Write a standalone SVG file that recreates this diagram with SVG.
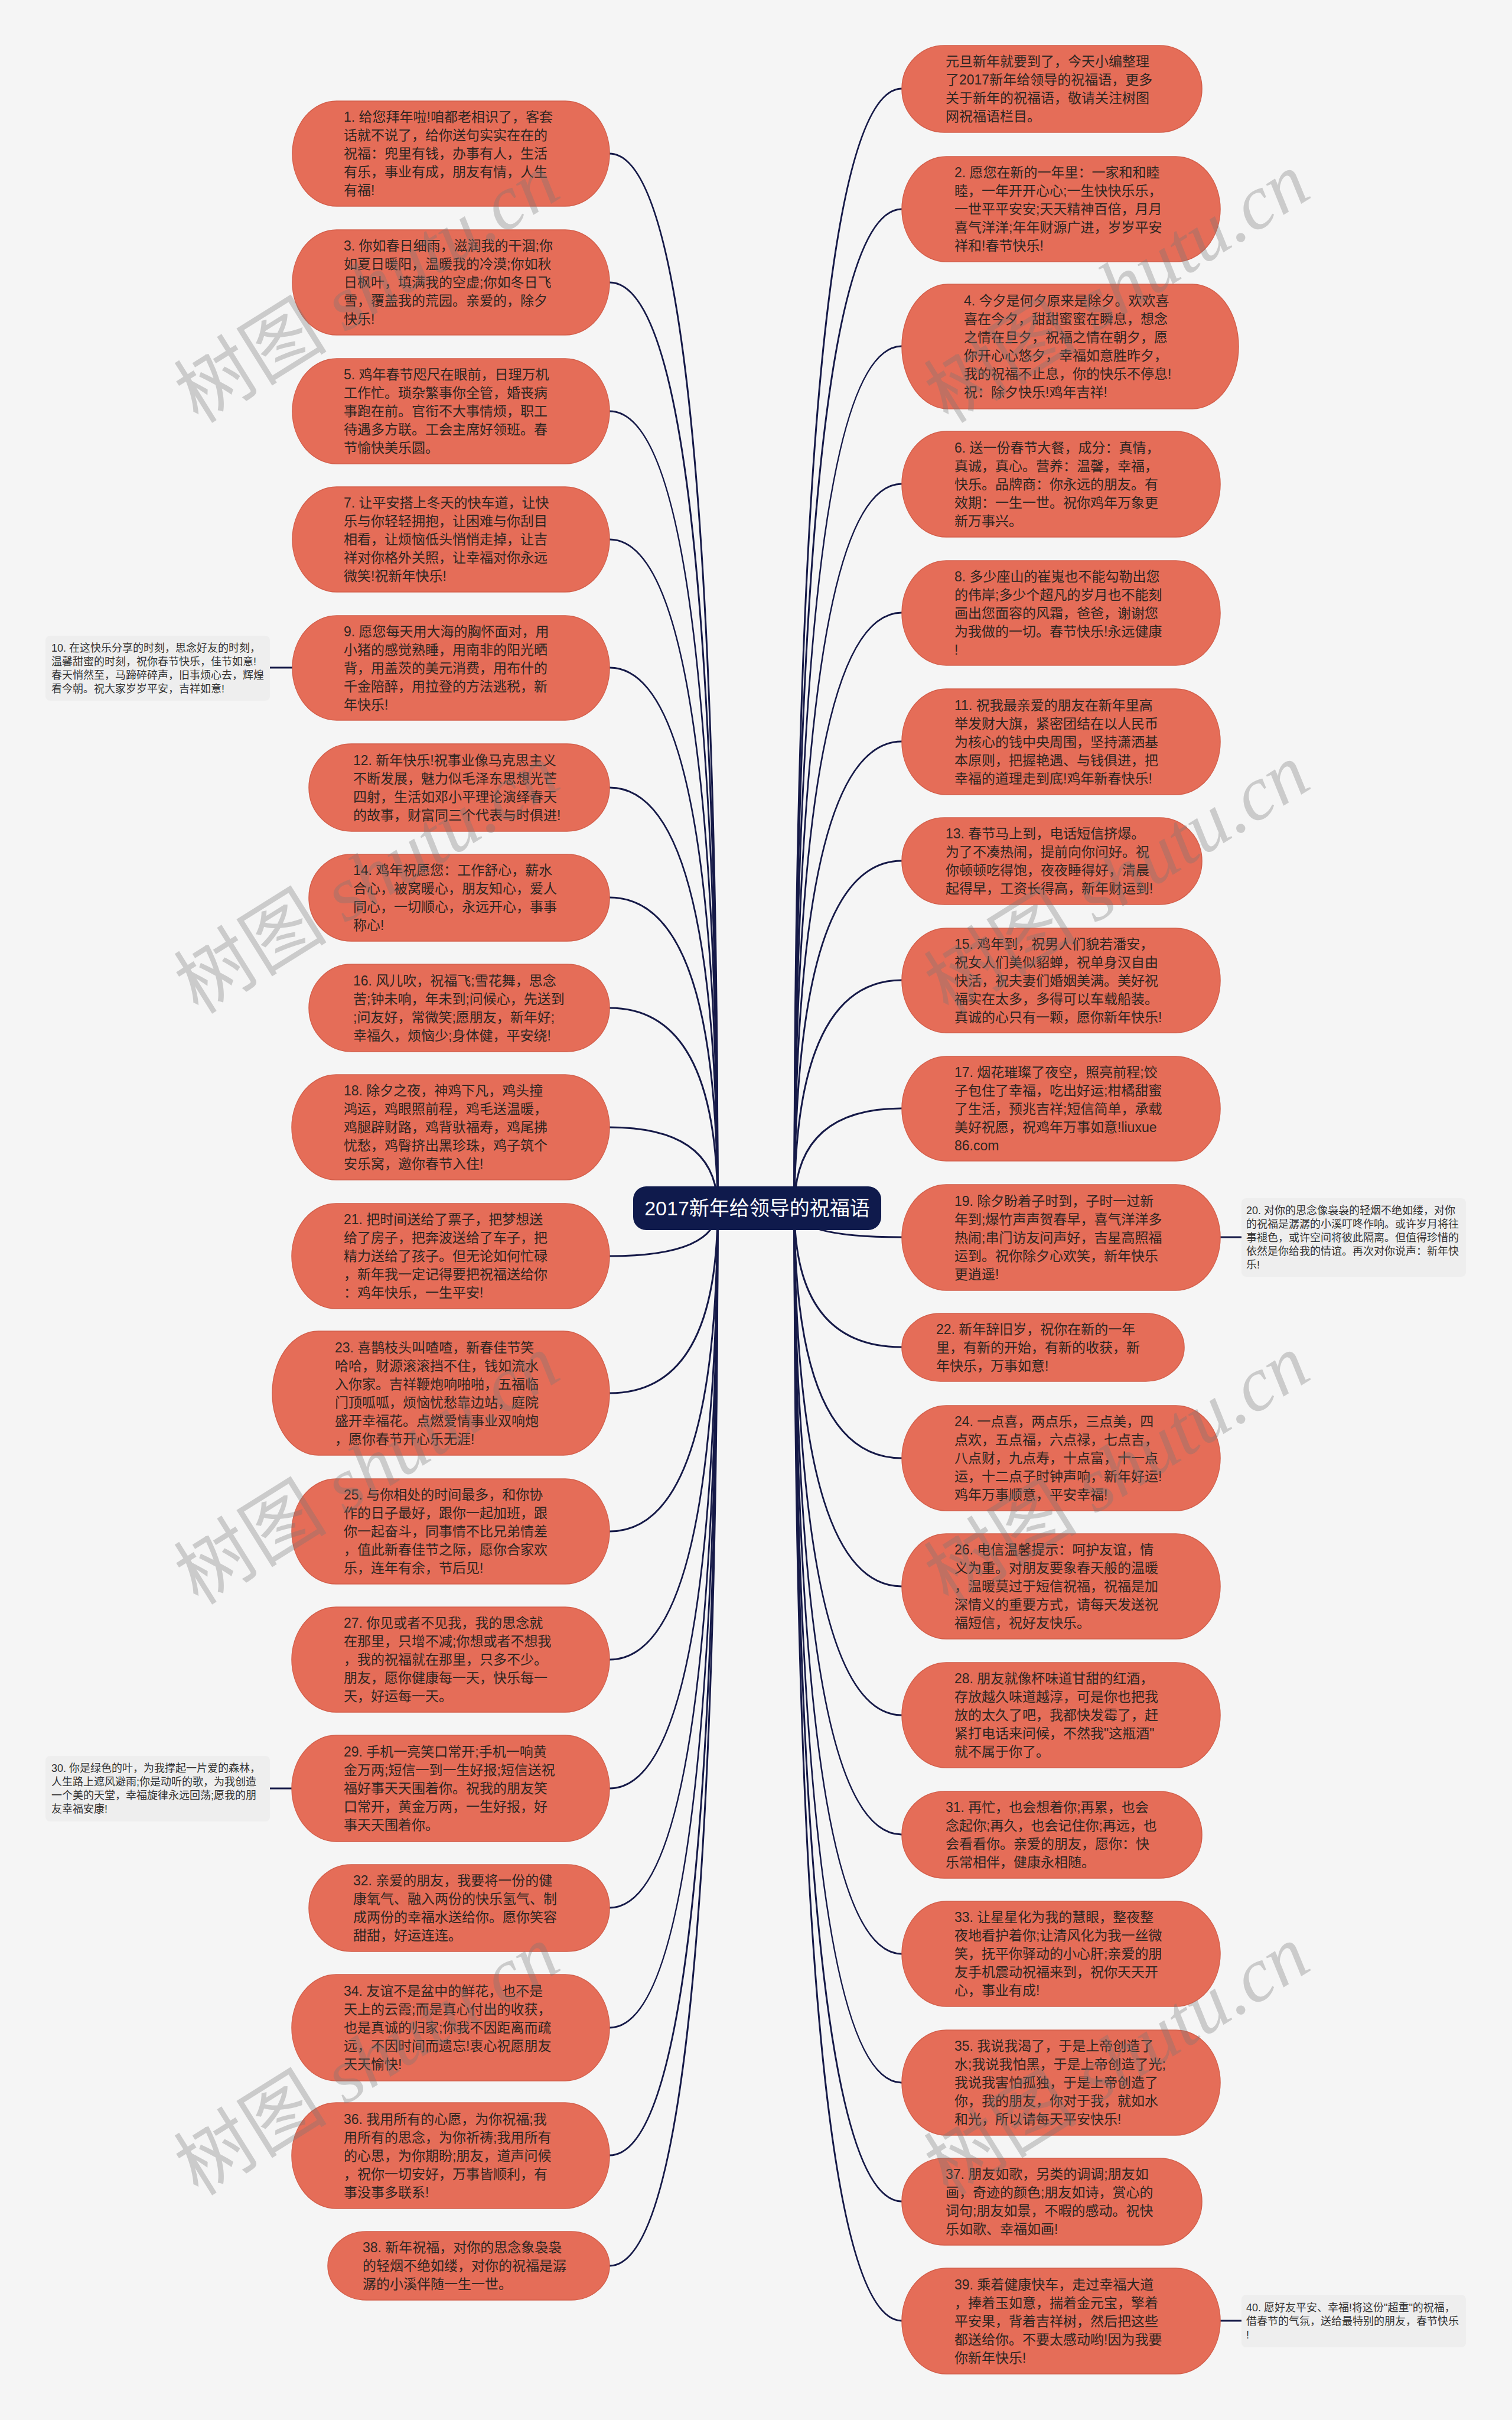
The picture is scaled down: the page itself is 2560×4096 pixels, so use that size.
<svg xmlns="http://www.w3.org/2000/svg" width="2560" height="4096" viewBox="0 0 2560 4096">
<style>
.n{fill:#e56d58;stroke:#d45f4b;stroke-width:1.5}
.t{font-family:"Liberation Sans","Noto Sans CJK SC",sans-serif;font-size:23px;fill:#2e2622}
.nb{fill:#eeeeee}
.nt{font-family:"Liberation Sans","Noto Sans CJK SC",sans-serif;font-size:18px;fill:#333333}
.c{fill:none;stroke:#161a48;stroke-width:3}
.wm{font-size:130px;fill:#777777;opacity:0.33}
.ct{font-family:"Liberation Sans","Noto Sans CJK SC",sans-serif;font-size:34px;fill:#ffffff}
</style>
<rect x="0" y="0" width="2560" height="4096" fill="#f5f5f5"/>
<g id="connectors">
<path class="c" d="M1215 2045 Q1215 260 1032 260"/>
<path class="c" d="M1215 2045 Q1215 478 1032 478"/>
<path class="c" d="M1215 2045 Q1215 696 1032 696"/>
<path class="c" d="M1215 2045 Q1215 913 1032 913"/>
<path class="c" d="M1215 2045 Q1215 1130 1032 1130"/>
<path class="c" d="M1215 2045 Q1215 1333 1032 1333"/>
<path class="c" d="M1215 2045 Q1215 1519 1032 1519"/>
<path class="c" d="M1215 2045 Q1215 1706 1032 1706"/>
<path class="c" d="M1215 2045 Q1215 1908 1032 1908"/>
<path class="c" d="M1215 2045 Q1215 2126 1032 2126"/>
<path class="c" d="M1215 2045 Q1215 2358 1032 2358"/>
<path class="c" d="M1215 2045 Q1215 2592 1032 2592"/>
<path class="c" d="M1215 2045 Q1215 2809 1032 2809"/>
<path class="c" d="M1215 2045 Q1215 3027 1032 3027"/>
<path class="c" d="M1215 2045 Q1215 3229 1032 3229"/>
<path class="c" d="M1215 2045 Q1215 3432 1032 3432"/>
<path class="c" d="M1215 2045 Q1215 3648 1032 3648"/>
<path class="c" d="M1215 2045 Q1215 3835 1032 3835"/>
<path class="c" d="M1345 2045 Q1345 150 1527 150"/>
<path class="c" d="M1345 2045 Q1345 354 1527 354"/>
<path class="c" d="M1345 2045 Q1345 586 1527 586"/>
<path class="c" d="M1345 2045 Q1345 819 1527 819"/>
<path class="c" d="M1345 2045 Q1345 1037 1527 1037"/>
<path class="c" d="M1345 2045 Q1345 1255 1527 1255"/>
<path class="c" d="M1345 2045 Q1345 1457 1527 1457"/>
<path class="c" d="M1345 2045 Q1345 1659 1527 1659"/>
<path class="c" d="M1345 2045 Q1345 1876 1527 1876"/>
<path class="c" d="M1345 2045 Q1345 2094 1527 2094"/>
<path class="c" d="M1345 2045 Q1345 2280 1527 2280"/>
<path class="c" d="M1345 2045 Q1345 2468 1527 2468"/>
<path class="c" d="M1345 2045 Q1345 2685 1527 2685"/>
<path class="c" d="M1345 2045 Q1345 2903 1527 2903"/>
<path class="c" d="M1345 2045 Q1345 3105 1527 3105"/>
<path class="c" d="M1345 2045 Q1345 3307 1527 3307"/>
<path class="c" d="M1345 2045 Q1345 3525 1527 3525"/>
<path class="c" d="M1345 2045 Q1345 3726 1527 3726"/>
<path class="c" d="M1345 2045 Q1345 3928 1527 3928"/>
<path class="c" d="M495 1130 L457 1130"/>
<path class="c" d="M494 3027 L457 3027"/>
<path class="c" d="M2066 2094 L2102 2094"/>
<path class="c" d="M2066 3928 L2102 3928"/>
</g>
<g id="center">
<rect x="1072" y="2008" width="420" height="74" rx="22" fill="#0f1a4c"/>
<text class="ct" x="1282" y="2057" text-anchor="middle">2017新年给领导的祝福语</text>
</g>
<g id="n1"><rect class="n" x="495" y="171" width="537" height="178" rx="75" ry="89"/>
<text class="t" x="582" y="206"><tspan x="582">1. 给您拜年啦!咱都老相识了，客套</tspan><tspan x="582" dy="31">话就不说了，给你送句实实在在的</tspan><tspan x="582" dy="31">祝福：兜里有钱，办事有人，生活</tspan><tspan x="582" dy="31">有乐，事业有成，朋友有情，人生</tspan><tspan x="582" dy="31">有福!</tspan></text></g>
<g id="n3"><rect class="n" x="495" y="389" width="537" height="178" rx="75" ry="89"/>
<text class="t" x="582" y="424"><tspan x="582">3. 你如春日细雨，滋润我的干涸;你</tspan><tspan x="582" dy="31">如夏日暖阳，温暖我的冷漠;你如秋</tspan><tspan x="582" dy="31">日枫叶，填满我的空虚;你如冬日飞</tspan><tspan x="582" dy="31">雪，覆盖我的荒园。亲爱的，除夕</tspan><tspan x="582" dy="31">快乐!</tspan></text></g>
<g id="n5"><rect class="n" x="495" y="607" width="537" height="178" rx="75" ry="89"/>
<text class="t" x="582" y="642"><tspan x="582">5. 鸡年春节咫尺在眼前，日理万机</tspan><tspan x="582" dy="31">工作忙。琐杂繁事你全管，婚丧病</tspan><tspan x="582" dy="31">事跑在前。官衔不大事情烦，职工</tspan><tspan x="582" dy="31">待遇多方联。工会主席好领班。春</tspan><tspan x="582" dy="31">节愉快美乐圆。</tspan></text></g>
<g id="n7"><rect class="n" x="495" y="824" width="537" height="178" rx="75" ry="89"/>
<text class="t" x="582" y="859"><tspan x="582">7. 让平安搭上冬天的快车道，让快</tspan><tspan x="582" dy="31">乐与你轻轻拥抱，让困难与你刮目</tspan><tspan x="582" dy="31">相看，让烦恼低头悄悄走掉，让吉</tspan><tspan x="582" dy="31">祥对你格外关照，让幸福对你永远</tspan><tspan x="582" dy="31">微笑!祝新年快乐!</tspan></text></g>
<g id="n9"><rect class="n" x="495" y="1042" width="537" height="177" rx="75" ry="88"/>
<text class="t" x="582" y="1077"><tspan x="582">9. 愿您每天用大海的胸怀面对，用</tspan><tspan x="582" dy="31">小猪的感觉熟睡，用南非的阳光晒</tspan><tspan x="582" dy="31">背，用盖茨的美元消费，用布什的</tspan><tspan x="582" dy="31">千金陪醉，用拉登的方法逃税，新</tspan><tspan x="582" dy="31">年快乐!</tspan></text></g>
<g id="n10"><rect class="nb" x="77" y="1076" width="380" height="110" rx="8"/>
<text class="nt" x="87" y="1103"><tspan x="87">10. 在这快乐分享的时刻，思念好友的时刻，</tspan><tspan x="87" dy="23">温馨甜蜜的时刻，祝你春节快乐，佳节如意!</tspan><tspan x="87" dy="23">春天悄然至，马蹄碎碎声，旧事烦心去，辉煌</tspan><tspan x="87" dy="23">看今朝。祝大家岁岁平安，吉祥如意!</tspan></text></g>
<g id="n12"><rect class="n" x="523" y="1259" width="509" height="148" rx="72" ry="74"/>
<text class="t" x="598" y="1295"><tspan x="598">12. 新年快乐!祝事业像马克思主义</tspan><tspan x="598" dy="31">不断发展，魅力似毛泽东思想光芒</tspan><tspan x="598" dy="31">四射，生活如邓小平理论演绎春天</tspan><tspan x="598" dy="31">的故事，财富同三个代表与时俱进!</tspan></text></g>
<g id="n14"><rect class="n" x="523" y="1446" width="509" height="147" rx="72" ry="73"/>
<text class="t" x="598" y="1481"><tspan x="598">14. 鸡年祝愿您：工作舒心，薪水</tspan><tspan x="598" dy="31">合心，被窝暖心，朋友知心，爱人</tspan><tspan x="598" dy="31">同心，一切顺心，永远开心，事事</tspan><tspan x="598" dy="31">称心!</tspan></text></g>
<g id="n16"><rect class="n" x="523" y="1632" width="509" height="148" rx="72" ry="74"/>
<text class="t" x="598" y="1668"><tspan x="598">16. 风儿吹，祝福飞;雪花舞，思念</tspan><tspan x="598" dy="31">苦;钟未响，年未到;问候心，先送到</tspan><tspan x="598" dy="31">;问友好，常微笑;愿朋友，新年好;</tspan><tspan x="598" dy="31">幸福久，烦恼少;身体健，平安绕!</tspan></text></g>
<g id="n18"><rect class="n" x="494" y="1819" width="538" height="178" rx="75" ry="89"/>
<text class="t" x="582" y="1854"><tspan x="582">18. 除夕之夜，神鸡下凡，鸡头撞</tspan><tspan x="582" dy="31">鸿运，鸡眼照前程，鸡毛送温暖，</tspan><tspan x="582" dy="31">鸡腿辟财路，鸡背驮福寿，鸡尾拂</tspan><tspan x="582" dy="31">忧愁，鸡臀挤出黑珍珠，鸡子筑个</tspan><tspan x="582" dy="31">安乐窝，邀你春节入住!</tspan></text></g>
<g id="n21"><rect class="n" x="494" y="2037" width="538" height="178" rx="75" ry="89"/>
<text class="t" x="582" y="2072"><tspan x="582">21. 把时间送给了票子，把梦想送</tspan><tspan x="582" dy="31">给了房子，把奔波送给了车子，把</tspan><tspan x="582" dy="31">精力送给了孩子。但无论如何忙碌</tspan><tspan x="582" dy="31">，新年我一定记得要把祝福送给你</tspan><tspan x="582" dy="31">：鸡年快乐，一生平安!</tspan></text></g>
<g id="n23"><rect class="n" x="461" y="2253" width="571" height="210" rx="78" ry="105"/>
<text class="t" x="567" y="2289"><tspan x="567">23. 喜鹊枝头叫喳喳，新春佳节笑</tspan><tspan x="567" dy="31">哈哈，财源滚滚挡不住，钱如流水</tspan><tspan x="567" dy="31">入你家。吉祥鞭炮响啪啪，五福临</tspan><tspan x="567" dy="31">门顶呱呱，烦恼忧愁靠边站，庭院</tspan><tspan x="567" dy="31">盛开幸福花。点燃爱情事业双响炮</tspan><tspan x="567" dy="31">，愿你春节开心乐无涯!</tspan></text></g>
<g id="n25"><rect class="n" x="494" y="2503" width="538" height="178" rx="75" ry="89"/>
<text class="t" x="582" y="2538"><tspan x="582">25. 与你相处的时间最多，和你协</tspan><tspan x="582" dy="31">作的日子最好，跟你一起加班，跟</tspan><tspan x="582" dy="31">你一起奋斗，同事情不比兄弟情差</tspan><tspan x="582" dy="31">，值此新春佳节之际，愿你合家欢</tspan><tspan x="582" dy="31">乐，连年有余，节后见!</tspan></text></g>
<g id="n27"><rect class="n" x="494" y="2720" width="538" height="178" rx="75" ry="89"/>
<text class="t" x="582" y="2755"><tspan x="582">27. 你见或者不见我，我的思念就</tspan><tspan x="582" dy="31">在那里，只增不减;你想或者不想我</tspan><tspan x="582" dy="31">，我的祝福就在那里，只多不少。</tspan><tspan x="582" dy="31">朋友，愿你健康每一天，快乐每一</tspan><tspan x="582" dy="31">天，好运每一天。</tspan></text></g>
<g id="n29"><rect class="n" x="494" y="2937" width="538" height="180" rx="75" ry="90"/>
<text class="t" x="582" y="2973"><tspan x="582">29. 手机一亮笑口常开;手机一响黄</tspan><tspan x="582" dy="31">金万两;短信一到一生好报;短信送祝</tspan><tspan x="582" dy="31">福好事天天围着你。祝我的朋友笑</tspan><tspan x="582" dy="31">口常开，黄金万两，一生好报，好</tspan><tspan x="582" dy="31">事天天围着你。</tspan></text></g>
<g id="n30"><rect class="nb" x="77" y="2972" width="380" height="111" rx="8"/>
<text class="nt" x="87" y="2999"><tspan x="87">30. 你是绿色的叶，为我撑起一片爱的森林，</tspan><tspan x="87" dy="23">人生路上遮风避雨;你是动听的歌，为我创造</tspan><tspan x="87" dy="23">一个美的天堂，幸福旋律永远回荡;愿我的朋</tspan><tspan x="87" dy="23">友幸福安康!</tspan></text></g>
<g id="n32"><rect class="n" x="523" y="3156" width="509" height="147" rx="72" ry="73"/>
<text class="t" x="598" y="3191"><tspan x="598">32. 亲爱的朋友，我要将一份的健</tspan><tspan x="598" dy="31">康氧气、融入两份的快乐氢气、制</tspan><tspan x="598" dy="31">成两份的幸福水送给你。愿你笑容</tspan><tspan x="598" dy="31">甜甜，好运连连。</tspan></text></g>
<g id="n34"><rect class="n" x="494" y="3342" width="538" height="180" rx="75" ry="90"/>
<text class="t" x="582" y="3378"><tspan x="582">34. 友谊不是盆中的鲜花，也不是</tspan><tspan x="582" dy="31">天上的云霞;而是真心付出的收获，</tspan><tspan x="582" dy="31">也是真诚的归家;你我不因距离而疏</tspan><tspan x="582" dy="31">远，不因时间而遗忘!衷心祝愿朋友</tspan><tspan x="582" dy="31">天天愉快!</tspan></text></g>
<g id="n36"><rect class="n" x="494" y="3559" width="538" height="179" rx="75" ry="89"/>
<text class="t" x="582" y="3595"><tspan x="582">36. 我用所有的心愿，为你祝福;我</tspan><tspan x="582" dy="31">用所有的思念，为你祈祷;我用所有</tspan><tspan x="582" dy="31">的心思，为你期盼;朋友，道声问候</tspan><tspan x="582" dy="31">，祝你一切安好，万事皆顺利，有</tspan><tspan x="582" dy="31">事没事多联系!</tspan></text></g>
<g id="n38"><rect class="n" x="555" y="3777" width="477" height="116" rx="65" ry="58"/>
<text class="t" x="614" y="3812"><tspan x="614">38. 新年祝福，对你的思念象袅袅</tspan><tspan x="614" dy="31">的轻烟不绝如缕，对你的祝福是潺</tspan><tspan x="614" dy="31">潺的小溪伴随一生一世。</tspan></text></g>
<g id="n0"><rect class="n" x="1527" y="77" width="508" height="147" rx="72" ry="73"/>
<text class="t" x="1601" y="112"><tspan x="1601">元旦新年就要到了，今天小编整理</tspan><tspan x="1601" dy="31">了2017新年给领导的祝福语，更多</tspan><tspan x="1601" dy="31">关于新年的祝福语，敬请关注树图</tspan><tspan x="1601" dy="31">网祝福语栏目。</tspan></text></g>
<g id="n2"><rect class="n" x="1527" y="265" width="539" height="178" rx="75" ry="89"/>
<text class="t" x="1616" y="300"><tspan x="1616">2. 愿您在新的一年里：一家和和睦</tspan><tspan x="1616" dy="31">睦，一年开开心心;一生快快乐乐，</tspan><tspan x="1616" dy="31">一世平平安安;天天精神百倍，月月</tspan><tspan x="1616" dy="31">喜气洋洋;年年财源广进，岁岁平安</tspan><tspan x="1616" dy="31">祥和!春节快乐!</tspan></text></g>
<g id="n4"><rect class="n" x="1527" y="481" width="570" height="211" rx="78" ry="105"/>
<text class="t" x="1632" y="517"><tspan x="1632">4. 今夕是何夕原来是除夕。欢欢喜</tspan><tspan x="1632" dy="31">喜在今夕，甜甜蜜蜜在瞬息，想念</tspan><tspan x="1632" dy="31">之情在旦夕，祝福之情在朝夕，愿</tspan><tspan x="1632" dy="31">你开心心悠夕，幸福如意胜昨夕，</tspan><tspan x="1632" dy="31">我的祝福不止息，你的快乐不停息!</tspan><tspan x="1632" dy="31">祝：除夕快乐!鸡年吉祥!</tspan></text></g>
<g id="n6"><rect class="n" x="1527" y="730" width="539" height="179" rx="75" ry="89"/>
<text class="t" x="1616" y="766"><tspan x="1616">6. 送一份春节大餐，成分：真情，</tspan><tspan x="1616" dy="31">真诚，真心。营养：温馨，幸福，</tspan><tspan x="1616" dy="31">快乐。品牌商：你永远的朋友。有</tspan><tspan x="1616" dy="31">效期：一生一世。祝你鸡年万象更</tspan><tspan x="1616" dy="31">新万事兴。</tspan></text></g>
<g id="n8"><rect class="n" x="1527" y="949" width="539" height="177" rx="75" ry="88"/>
<text class="t" x="1616" y="984"><tspan x="1616">8. 多少座山的崔嵬也不能勾勒出您</tspan><tspan x="1616" dy="31">的伟岸;多少个超凡的岁月也不能刻</tspan><tspan x="1616" dy="31">画出您面容的风霜，爸爸，谢谢您</tspan><tspan x="1616" dy="31">为我做的一切。春节快乐!永远健康</tspan><tspan x="1616" dy="31">!</tspan></text></g>
<g id="n11"><rect class="n" x="1527" y="1166" width="539" height="179" rx="75" ry="89"/>
<text class="t" x="1616" y="1202"><tspan x="1616">11. 祝我最亲爱的朋友在新年里高</tspan><tspan x="1616" dy="31">举发财大旗，紧密团结在以人民币</tspan><tspan x="1616" dy="31">为核心的钱中央周围，坚持潇洒基</tspan><tspan x="1616" dy="31">本原则，把握艳遇、与钱俱进，把</tspan><tspan x="1616" dy="31">幸福的道理走到底!鸡年新春快乐!</tspan></text></g>
<g id="n13"><rect class="n" x="1527" y="1384" width="508" height="147" rx="72" ry="73"/>
<text class="t" x="1601" y="1419"><tspan x="1601">13. 春节马上到，电话短信挤爆。</tspan><tspan x="1601" dy="31">为了不凑热闹，提前向你问好。祝</tspan><tspan x="1601" dy="31">你顿顿吃得饱，夜夜睡得好，清晨</tspan><tspan x="1601" dy="31">起得早，工资长得高，新年财运到!</tspan></text></g>
<g id="n15"><rect class="n" x="1527" y="1571" width="539" height="177" rx="75" ry="88"/>
<text class="t" x="1616" y="1606"><tspan x="1616">15. 鸡年到，祝男人们貌若潘安，</tspan><tspan x="1616" dy="31">祝女人们美似貂蝉，祝单身汉自由</tspan><tspan x="1616" dy="31">快活，祝夫妻们婚姻美满。美好祝</tspan><tspan x="1616" dy="31">福实在太多，多得可以车载船装。</tspan><tspan x="1616" dy="31">真诚的心只有一颗，愿你新年快乐!</tspan></text></g>
<g id="n17"><rect class="n" x="1527" y="1788" width="539" height="177" rx="75" ry="88"/>
<text class="t" x="1616" y="1823"><tspan x="1616">17. 烟花璀璨了夜空，照亮前程;饺</tspan><tspan x="1616" dy="31">子包住了幸福，吃出好运;柑橘甜蜜</tspan><tspan x="1616" dy="31">了生活，预兆吉祥;短信简单，承载</tspan><tspan x="1616" dy="31">美好祝愿，祝鸡年万事如意!liuxue</tspan><tspan x="1616" dy="31">86.com</tspan></text></g>
<g id="n19"><rect class="n" x="1527" y="2005" width="539" height="179" rx="75" ry="89"/>
<text class="t" x="1616" y="2041"><tspan x="1616">19. 除夕盼着子时到，子时一过新</tspan><tspan x="1616" dy="31">年到;爆竹声声贺春早，喜气洋洋多</tspan><tspan x="1616" dy="31">热闹;串门访友问声好，吉星高照福</tspan><tspan x="1616" dy="31">运到。祝你除夕心欢笑，新年快乐</tspan><tspan x="1616" dy="31">更逍遥!</tspan></text></g>
<g id="n20"><rect class="nb" x="2102" y="2028" width="380" height="133" rx="8"/>
<text class="nt" x="2110" y="2055"><tspan x="2110">20. 对你的思念像袅袅的轻烟不绝如缕，对你</tspan><tspan x="2110" dy="23">的祝福是潺潺的小溪叮咚作响。或许岁月将往</tspan><tspan x="2110" dy="23">事褪色，或许空间将彼此隔离。但值得珍惜的</tspan><tspan x="2110" dy="23">依然是你给我的情谊。再次对你说声：新年快</tspan><tspan x="2110" dy="23">乐!</tspan></text></g>
<g id="n22"><rect class="n" x="1527" y="2223" width="478" height="115" rx="65" ry="57"/>
<text class="t" x="1585" y="2258"><tspan x="1585">22. 新年辞旧岁，祝你在新的一年</tspan><tspan x="1585" dy="31">里，有新的开始，有新的收获，新</tspan><tspan x="1585" dy="31">年快乐，万事如意!</tspan></text></g>
<g id="n24"><rect class="n" x="1527" y="2379" width="539" height="178" rx="75" ry="89"/>
<text class="t" x="1616" y="2414"><tspan x="1616">24. 一点喜，两点乐，三点美，四</tspan><tspan x="1616" dy="31">点欢，五点福，六点禄，七点吉，</tspan><tspan x="1616" dy="31">八点财，九点寿，十点富，十一点</tspan><tspan x="1616" dy="31">运，十二点子时钟声响，新年好运!</tspan><tspan x="1616" dy="31">鸡年万事顺意，平安幸福!</tspan></text></g>
<g id="n26"><rect class="n" x="1527" y="2596" width="539" height="178" rx="75" ry="89"/>
<text class="t" x="1616" y="2631"><tspan x="1616">26. 电信温馨提示：呵护友谊，情</tspan><tspan x="1616" dy="31">义为重。对朋友要象春天般的温暖</tspan><tspan x="1616" dy="31">，温暖莫过于短信祝福，祝福是加</tspan><tspan x="1616" dy="31">深情义的重要方式，请每天发送祝</tspan><tspan x="1616" dy="31">福短信，祝好友快乐。</tspan></text></g>
<g id="n28"><rect class="n" x="1527" y="2814" width="539" height="178" rx="75" ry="89"/>
<text class="t" x="1616" y="2849"><tspan x="1616">28. 朋友就像杯味道甘甜的红酒，</tspan><tspan x="1616" dy="31">存放越久味道越淳，可是你也把我</tspan><tspan x="1616" dy="31">放的太久了吧，我都快发霉了，赶</tspan><tspan x="1616" dy="31">紧打电话来问候，不然我"这瓶酒"</tspan><tspan x="1616" dy="31">就不属于你了。</tspan></text></g>
<g id="n31"><rect class="n" x="1527" y="3032" width="508" height="147" rx="72" ry="73"/>
<text class="t" x="1601" y="3067"><tspan x="1601">31. 再忙，也会想着你;再累，也会</tspan><tspan x="1601" dy="31">念起你;再久，也会记住你;再远，也</tspan><tspan x="1601" dy="31">会看看你。亲爱的朋友，愿你：快</tspan><tspan x="1601" dy="31">乐常相伴，健康永相随。</tspan></text></g>
<g id="n33"><rect class="n" x="1527" y="3218" width="539" height="178" rx="75" ry="89"/>
<text class="t" x="1616" y="3253"><tspan x="1616">33. 让星星化为我的慧眼，整夜整</tspan><tspan x="1616" dy="31">夜地看护着你;让清风化为我一丝微</tspan><tspan x="1616" dy="31">笑，抚平你驿动的小心肝;亲爱的朋</tspan><tspan x="1616" dy="31">友手机震动祝福来到，祝你天天开</tspan><tspan x="1616" dy="31">心，事业有成!</tspan></text></g>
<g id="n35"><rect class="n" x="1527" y="3436" width="539" height="178" rx="75" ry="89"/>
<text class="t" x="1616" y="3471"><tspan x="1616">35. 我说我渴了，于是上帝创造了</tspan><tspan x="1616" dy="31">水;我说我怕黑，于是上帝创造了光;</tspan><tspan x="1616" dy="31">我说我害怕孤独，于是上帝创造了</tspan><tspan x="1616" dy="31">你，我的朋友，你对于我，就如水</tspan><tspan x="1616" dy="31">和光，所以请每天平安快乐!</tspan></text></g>
<g id="n37"><rect class="n" x="1527" y="3653" width="508" height="147" rx="72" ry="73"/>
<text class="t" x="1601" y="3688"><tspan x="1601">37. 朋友如歌，另类的调调;朋友如</tspan><tspan x="1601" dy="31">画，奇迹的颜色;朋友如诗，赏心的</tspan><tspan x="1601" dy="31">词句;朋友如景，不暇的感动。祝快</tspan><tspan x="1601" dy="31">乐如歌、幸福如画!</tspan></text></g>
<g id="n39"><rect class="n" x="1527" y="3839" width="539" height="179" rx="75" ry="89"/>
<text class="t" x="1616" y="3875"><tspan x="1616">39. 乘着健康快车，走过幸福大道</tspan><tspan x="1616" dy="31">，捧着玉如意，揣着金元宝，擎着</tspan><tspan x="1616" dy="31">平安果，背着吉祥树，然后把这些</tspan><tspan x="1616" dy="31">都送给你。不要太感动哟!因为我要</tspan><tspan x="1616" dy="31">你新年快乐!</tspan></text></g>
<g id="n40"><rect class="nb" x="2102" y="3884" width="380" height="89" rx="8"/>
<text class="nt" x="2110" y="3912"><tspan x="2110">40. 愿好友平安、幸福!将这份"超重"的祝福，</tspan><tspan x="2110" dy="23">借春节的气氛，送给最特别的朋友，春节快乐</tspan><tspan x="2110" dy="23">!</tspan></text></g>
<g id="watermarks">
<text class="wm" transform="translate(645 525) rotate(-32)" text-anchor="middle"><tspan font-family="Noto Sans CJK SC, sans-serif">树图</tspan><tspan font-family="Liberation Serif, serif" font-style="italic"> shutu.cn</tspan></text>
<text class="wm" transform="translate(1915 525) rotate(-32)" text-anchor="middle"><tspan font-family="Noto Sans CJK SC, sans-serif">树图</tspan><tspan font-family="Liberation Serif, serif" font-style="italic"> shutu.cn</tspan></text>
<text class="wm" transform="translate(645 1525) rotate(-32)" text-anchor="middle"><tspan font-family="Noto Sans CJK SC, sans-serif">树图</tspan><tspan font-family="Liberation Serif, serif" font-style="italic"> shutu.cn</tspan></text>
<text class="wm" transform="translate(1915 1525) rotate(-32)" text-anchor="middle"><tspan font-family="Noto Sans CJK SC, sans-serif">树图</tspan><tspan font-family="Liberation Serif, serif" font-style="italic"> shutu.cn</tspan></text>
<text class="wm" transform="translate(645 2525) rotate(-32)" text-anchor="middle"><tspan font-family="Noto Sans CJK SC, sans-serif">树图</tspan><tspan font-family="Liberation Serif, serif" font-style="italic"> shutu.cn</tspan></text>
<text class="wm" transform="translate(1915 2525) rotate(-32)" text-anchor="middle"><tspan font-family="Noto Sans CJK SC, sans-serif">树图</tspan><tspan font-family="Liberation Serif, serif" font-style="italic"> shutu.cn</tspan></text>
<text class="wm" transform="translate(645 3525) rotate(-32)" text-anchor="middle"><tspan font-family="Noto Sans CJK SC, sans-serif">树图</tspan><tspan font-family="Liberation Serif, serif" font-style="italic"> shutu.cn</tspan></text>
<text class="wm" transform="translate(1915 3525) rotate(-32)" text-anchor="middle"><tspan font-family="Noto Sans CJK SC, sans-serif">树图</tspan><tspan font-family="Liberation Serif, serif" font-style="italic"> shutu.cn</tspan></text>
</g>
</svg>
